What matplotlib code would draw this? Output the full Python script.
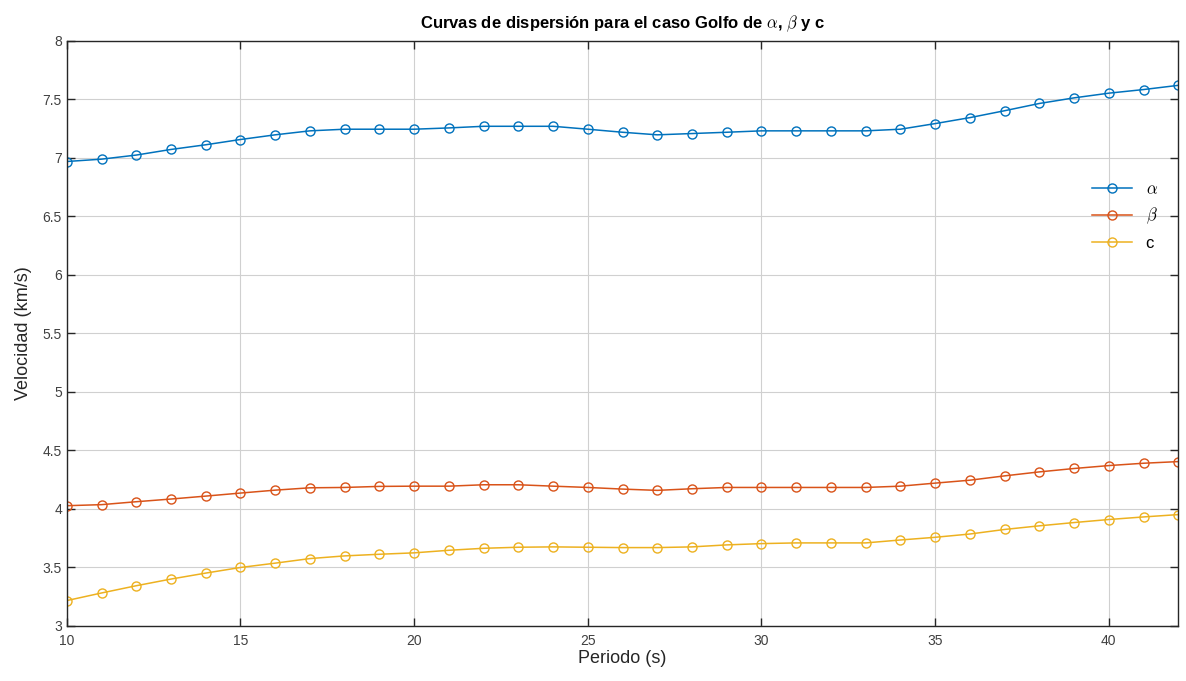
import matplotlib
matplotlib.use("Agg")
import matplotlib.pyplot as plt

periodo = list(range(10, 43))
alpha = [6.97, 6.99, 7.025, 7.073, 7.113, 7.158, 7.198, 7.232, 7.246, 7.246, 7.246,
         7.257, 7.271, 7.271, 7.271, 7.246, 7.22, 7.198, 7.209, 7.22, 7.232, 7.232,
         7.232, 7.232, 7.246, 7.294, 7.345, 7.404, 7.466, 7.514, 7.554, 7.585, 7.621]
beta = [4.028, 4.037, 4.062, 4.085, 4.110, 4.136, 4.161, 4.181, 4.184, 4.193, 4.195,
        4.195, 4.207, 4.207, 4.195, 4.184, 4.170, 4.159, 4.173, 4.184, 4.184, 4.184,
        4.184, 4.184, 4.195, 4.221, 4.246, 4.283, 4.317, 4.346, 4.371, 4.391, 4.405]
c = [3.217, 3.282, 3.344, 3.401, 3.452, 3.50, 3.537, 3.576, 3.599, 3.613, 3.625,
     3.647, 3.664, 3.673, 3.676, 3.673, 3.670, 3.670, 3.676, 3.693, 3.704, 3.710,
     3.710, 3.710, 3.735, 3.758, 3.786, 3.825, 3.856, 3.884, 3.91, 3.932, 3.952]

labels = [r"$\alpha$", r"$\beta$", "c"]
colors = ["#0072BD", "#D95319", "#EDB120"]
xticks = [10, 15, 20, 25, 30, 35, 40]
yticks = [3, 3.5, 4, 4.5, 5, 5.5, 6, 6.5, 7, 7.5, 8]
ytick_labels = ["3", "3.5", "4", "4.5", "5", "5.5", "6", "6.5", "7", "7.5", "8"]

plt.rcParams['font.family'] = ['Liberation Sans', 'DejaVu Sans']
plt.rcParams['mathtext.fontset'] = 'cm'

fig = plt.figure(figsize=(11.86, 6.81), dpi=100)
ax = fig.add_axes([0.0563, 0.0808, 0.9372, 0.859])

for ys, lab, col in zip([alpha, beta, c], labels, colors):
    ax.plot(periodo, ys, color=col, marker='o', markersize=6.5, markerfacecolor='none',
            markeredgewidth=1.0, linewidth=1.1, label=lab)

ax.set_xlim(10, 42)
ax.set_ylim(3, 8)
ax.set_xticks(xticks)
ax.set_yticks(yticks)
ax.set_yticklabels(ytick_labels)
ax.tick_params(direction='in', top=True, right=True, labelsize=10, length=6, width=1.0,
               colors='#262626', labelcolor='#404040')
ax.tick_params(axis='x', pad=6)
ax.grid(True, color='#d0d0d0', linewidth=0.8)
for s in ax.spines.values():
    s.set_color('#262626')
    s.set_linewidth(1.0)

ax.set_xlabel("Periodo (s)", fontsize=13, color='#262626', labelpad=1)
ax.set_ylabel("Velocidad (km/s)", fontsize=13, color='#262626', labelpad=8)
ax.set_title(r"Curvas de dispersión para el caso Golfo de $\alpha$, $\beta$ y c",
             fontsize=12, fontweight='bold', pad=9)

leg = ax.legend(loc='upper right', bbox_to_anchor=(0.995, 0.785), frameon=False,
                fontsize=12, handlelength=2.4, labelspacing=0.55)

fig.savefig("out.png", dpi=100, facecolor='white')
